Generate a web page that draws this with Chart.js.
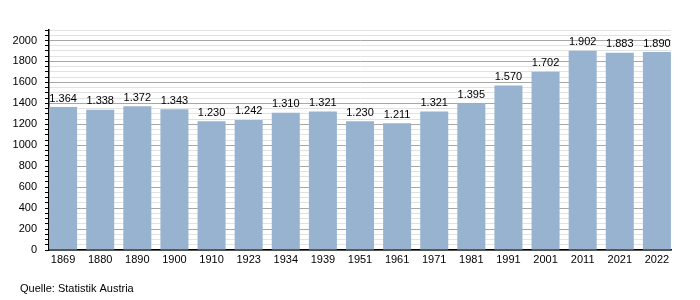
<!DOCTYPE html>
<html><head><meta charset="utf-8">
<script src="https://cdn.jsdelivr.net/npm/chart.js@4"></script>
<style>html,body{margin:0;padding:0;background:#fff}#w{position:relative;width:700px;height:300px}</style>
</head><body><div id="w"><canvas id="c" width="700" height="300"></canvas></div>
<script>
const categories = ["1869","1880","1890","1900","1910","1923","1934","1939","1951","1961","1971","1981","1991","2001","2011","2021","2022"];
const population = [1364,1338,1372,1343,1230,1242,1310,1321,1230,1211,1321,1395,1570,1702,1902,1883,1890];
const sourceText = "Quelle: Statistik Austria";
const FONT = "'Liberation Sans', Arial, sans-serif";

const fmt = v => { const s = String(v); return s.length > 3 ? s.slice(0, s.length-3) + "." + s.slice(-3) : s; };

const labelPlugin = {
  id: 'vals',
  afterDatasetsDraw(chart) {
    const ctx = chart.ctx;
    const meta = chart.getDatasetMeta(0);
    ctx.save();
    ctx.font = "11px " + FONT;
    ctx.fillStyle = "#000";
    ctx.textAlign = "center";
    ctx.textBaseline = "bottom";
    meta.data.forEach((bar, i) => {
      ctx.fillText(fmt(population[i]), bar.x, bar.y - 3);
    });
    ctx.textAlign = "left";
    ctx.textBaseline = "middle";
    ctx.fillText(sourceText, 20, 289);
    ctx.restore();
  }
};

new Chart(document.getElementById('c'), {
  type: 'bar',
  data: {
    datasets: [{
      data: population.map((v, i) => ({ x: i, y: v })),
      backgroundColor: '#98b3cf',
      categoryPercentage: 1,
      barPercentage: 0.755
    }]
  },
  options: {
    responsive: false,
    animation: false,
    layout: { padding: { left: 0, right: 29, top: 30, bottom: 30 } },
    plugins: { legend: { display: false }, tooltip: { enabled: false } },
    scales: {
      x: {
        type: 'linear',
        offset: false,
        min: -0.38, max: categories.length - 1 + 0.38,
        grid: { display: false, drawTicks: false, offset: false },
        border: { color: '#000', width: 1.5 },
        ticks: {
          stepSize: 1, includeBounds: false, autoSkip: false, maxRotation: 0,
          color: '#000', font: { family: FONT, size: 11 }, padding: 3,
          callback: v => (Number.isInteger(v) && categories[v] !== undefined ? categories[v] : '')
        },
        afterFit(s) { s.height = 20; }
      },
      y: {
        min: 0, max: 2100,
        border: { color: '#000', width: 1.5 },
        grid: {
          color: ctx => (ctx.tick && ctx.tick.value % 200 === 0) ? '#a8a8a8' : '#e2e2e2',
          tickColor: '#000',
          tickLength: 4,
          lineWidth: 1
        },
        ticks: {
          stepSize: 50,
          autoSkip: false,
          color: '#000',
          font: { family: FONT, size: 11 },
          padding: 8,
          callback: v => (v % 200 === 0 ? String(v) : '')
        },
        afterFit(s) { s.width = 49; }
      }
    }
  },
  plugins: [labelPlugin]
});
</script></body></html>
